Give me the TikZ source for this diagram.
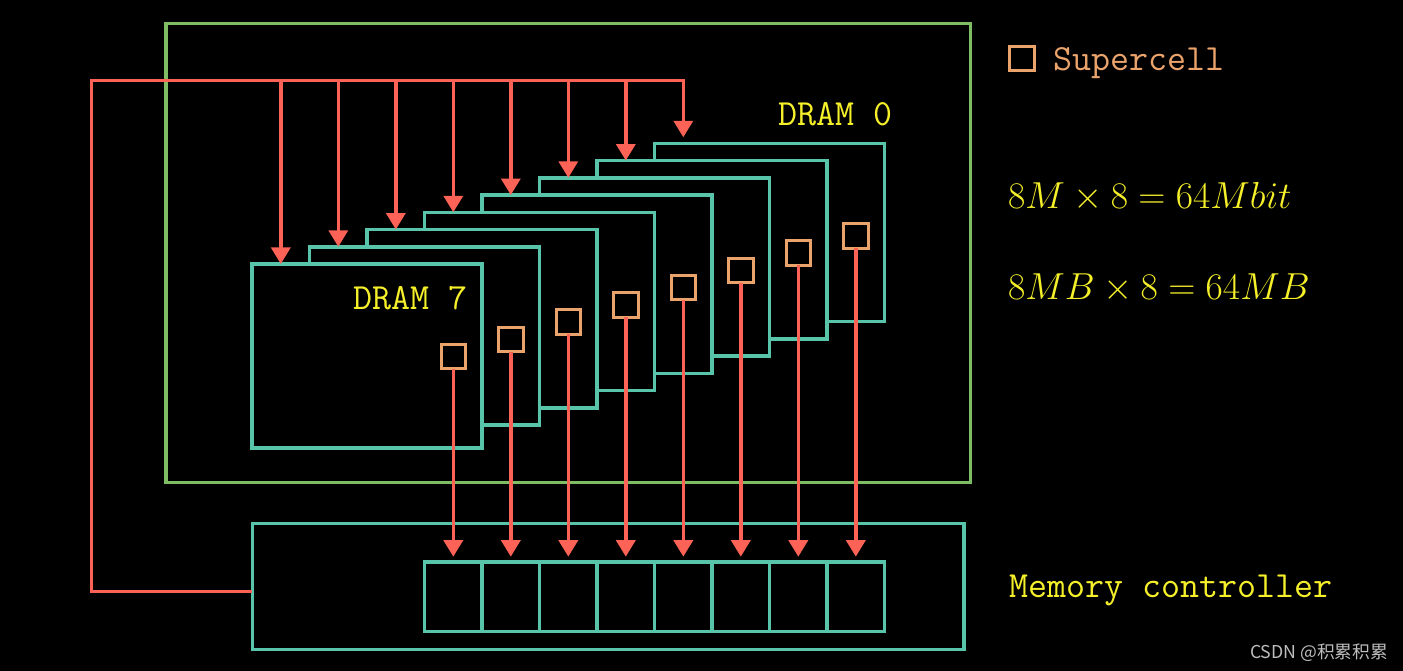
\RequirePackage{fix-cm}
\documentclass[tikz,border=0pt]{standalone}
\usepackage{fontspec}
\newfontfamily\cjk{Noto Sans CJK SC}
\usetikzlibrary{arrows.meta,calc}
\definecolor{mgreen}{HTML}{7EBD63}
\definecolor{mteal}{HTML}{58C4A9}
\definecolor{mred}{HTML}{FC6255}
\definecolor{morange}{HTML}{EBA36C}
\definecolor{myellow}{HTML}{F5F02A}
\definecolor{wmgray}{HTML}{BDBDBD}
\begin{document}
\begin{tikzpicture}[x=0.02cm,y=-0.02cm,
  every node/.style={inner sep=0pt,outer sep=0pt},
  box/.style={draw=mteal,line width=2pt,fill=black,anchor=north west,minimum width=4.6cm,minimum height=3.568cm},
  cell/.style={draw=morange,line width=1.7pt,minimum size=0.49cm},
  reg/.style={draw=mteal,line width=2pt,anchor=north west,minimum width=1.15cm,minimum height=1.394cm},
  wire/.style={draw=mred,line width=2pt},
  arr/.style={wire,-{Triangle[width=0.38cm,length=0.33cm]}},
  lbl/.style={text=myellow,font=\fontsize{21}{25}\selectfont\ttfamily,anchor=base west},
  eq/.style={text=myellow,font=\fontsize{21.4}{26}\selectfont,anchor=base west},
]
\fill[black] (0,0) rectangle (1403,671);
\useasboundingbox (0,0) rectangle (1403,671);

% module frame
\node[draw=mgreen,line width=2pt,anchor=north west,minimum width=16.094cm,minimum height=9.188cm] (module) at (166,23.3) {};

% DRAM chips, back to front
\foreach \k in {0,...,6}
  \node[box] (d\k) at ({654.3-57.5*\k},{143.3+17.25*\k}) {};
\node[box,minimum height=3.68cm] (d7) at (251.8,264) {};

% supercells and arrow targets
\foreach \k in {0,...,7}{
  \node[cell] (s\k) at ($(d\k.north west)+(201.5,92.5)$) {};
  \coordinate (t\k) at ($(d\k.north west)+(29,0)$);
}

% labels
\node[lbl] (l0) at (778.5,126) {DRAM 0};
\node[lbl] (l7) at (353.5,310) {DRAM 7};

% memory controller
\node[draw=mteal,line width=2pt,anchor=north west,minimum width=14.24cm,minimum height=2.52cm] (ctrl) at (252.3,523.3) {};
\foreach \k in {0,...,7}
  \node[reg] (c\k) at ({424.3+57.5*(7-\k)},562) {};

% address / command bus
\coordinate (bus) at (91.7,80.7);
\coordinate (busstart) at ($(ctrl.north west)+(0,68.4)$);
\draw[arr,shorten >=0.12cm] (busstart) -| (bus) -- (t0 |- bus) -- (t0);
\foreach \k in {1,...,7}
  \draw[arr] (t\k |- bus) -- (t\k);

% data lines
\foreach \k in {0,...,7}
  \draw[arr,shorten >=0.106cm] (s\k.south) -- (s\k.south |- c\k.north);

% legend and notes
\node[cell] (key) at (1022.2,58.4) {};
\node[lbl,text=morange] (keyt) at (1053,70.5) {Supercell};
\node[eq] (eq1) at (1008,208.3) {$8M\times 8=64Mbit$};
\node[eq] (eq2) at (1008,299.3) {$8MB\times 8=64MB$};
\node[lbl] (mc) at (1009,597.7) {Memory controller};
\node[anchor=base west,text=wmgray,font=\cjk\fontsize{10.1}{12}\selectfont] (wm) at (1250,658.3) {CSDN @积累积累};
\end{tikzpicture}
\end{document}
